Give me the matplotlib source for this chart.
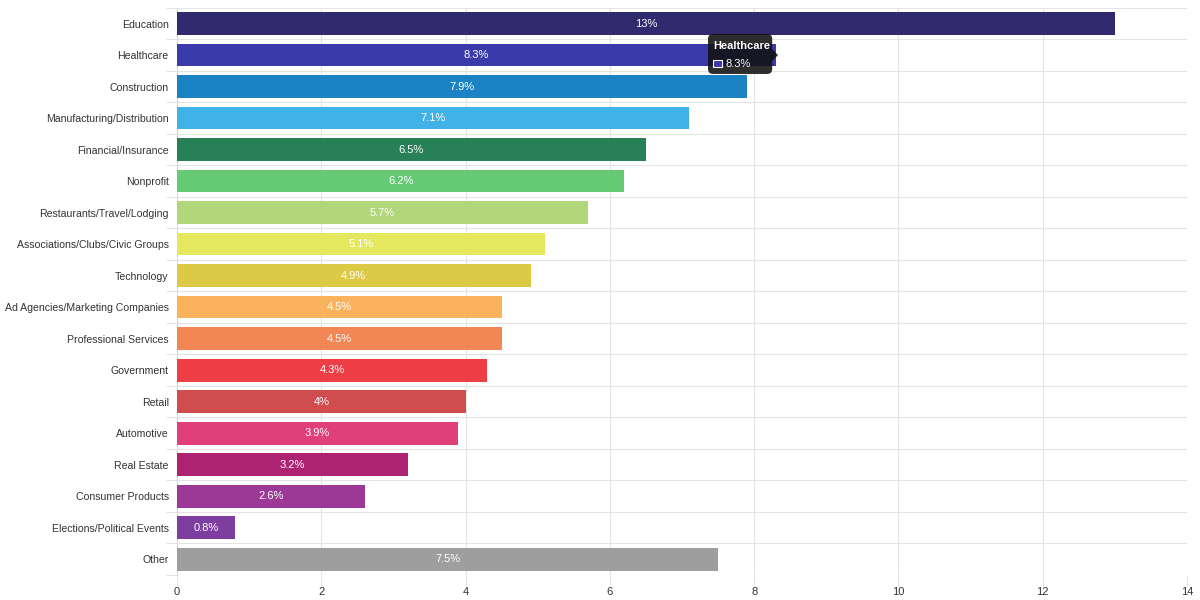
import matplotlib
matplotlib.use("Agg")
import matplotlib.pyplot as plt
from matplotlib.patches import FancyBboxPatch

plt.rcParams['font.family'] = ['Liberation Sans', 'DejaVu Sans']

# Данні діаграми
categories = [
    "Education", "Healthcare", "Construction", "Manufacturing/Distribution",
    "Financial/Insurance", "Nonprofit", "Restaurants/Travel/Lodging",
    "Associations/Clubs/Civic Groups", "Technology", "Ad Agencies/Marketing Companies",
    "Professional Services", "Government", "Retail", "Automotive", "Real Estate",
    "Consumer Products", "Elections/Political Events", "Other",
]
values = [13, 8.3, 7.9, 7.1, 6.5, 6.2, 5.7, 5.1, 4.9, 4.5, 4.5, 4.3, 4, 3.9, 3.2, 2.6, 0.8, 7.5]
value_labels = ["13%", "8.3%", "7.9%", "7.1%", "6.5%", "6.2%", "5.7%", "5.1%", "4.9%",
                "4.5%", "4.5%", "4.3%", "4%", "3.9%", "3.2%", "2.6%", "0.8%", "7.5%"]
colors = [
    "#312a6e", "#3a3aaa", "#1b82c4", "#41b2e8", "#288056", "#66c974",
    "#b2d67a", "#e4e85e", "#dcc945", "#fbb25c", "#f28654", "#ee3e45",
    "#cf4c4f", "#e03f7a", "#ae2272", "#9c3996", "#7d3ea0", "#9e9e9e",
]
x_ticks = [0, 2, 4, 6, 8, 10, 12, 14]
tooltip_category = "Healthcare"

fig = plt.figure(figsize=(12, 6), dpi=100)
ax = fig.add_axes([0.1475, 0.0417, 0.8417, 0.9453])

n = len(categories)
pos = list(range(n))
ax.barh(pos, values, height=0.72, color=colors, zorder=3)

for p, v, lab in zip(pos, values, value_labels):
    ax.text(v / 2, p, lab, ha="center", va="center", color="white", fontsize=8, zorder=4)

ax.set_ylim(n - 0.5, -0.5)
ax.set_xlim(0, 14)
ax.set_xticks(x_ticks)
ax.set_xticklabels([str(t) for t in x_ticks], fontsize=8, color="#333333")
ax.set_yticks(pos)
ax.set_yticklabels(categories, fontsize=7.6, color="#333333")

# Сітка на межах категорій
ax.set_yticks([p + 0.5 for p in pos[:-1]] + [-0.5, n - 0.5], minor=True)
ax.grid(axis="y", which="minor", color="#e4e4e4", lw=0.8, zorder=0)
ax.grid(axis="x", which="major", color="#e4e4e4", lw=0.8, zorder=0)
ax.tick_params(axis="y", which="major", length=0, pad=6)
ax.tick_params(axis="y", which="minor", length=8, color="#e4e4e4", width=0.8)
ax.tick_params(axis="x", length=8, color="#e4e4e4", width=0.8, pad=1)
for side in ["top", "right", "bottom"]:
    ax.spines[side].set_visible(False)
ax.spines["left"].set_color("#d8d8d8")

# Підказка (tooltip)
ti = categories.index(tooltip_category)
tv = values[ti]
bx0, bx1 = tv - 0.94, tv - 0.05
box = FancyBboxPatch((bx0, ti - 0.67), bx1 - bx0, 1.27,
                     boxstyle="round,pad=0,rounding_size=0.07",
                     transform=ax.transData, facecolor="#111111", alpha=0.88,
                     edgecolor="none", zorder=5, mutation_aspect=2.3)
ax.add_patch(box)
ax.fill([bx1 - 0.005, bx1 + 0.08, bx1 - 0.005], [ti - 0.2, ti, ti + 0.2], color="#111111",
        alpha=0.88, zorder=5, lw=0)
ax.text(bx0 + 0.07, ti - 0.29, tooltip_category, color="white", fontsize=8,
        fontweight="bold", ha="left", va="center", zorder=6)
ax.add_patch(plt.Rectangle((bx0 + 0.07, ti + 0.16), 0.13, 0.22, facecolor=colors[ti],
                           edgecolor="white", lw=0.8, zorder=6))
ax.text(bx0 + 0.24, ti + 0.27, value_labels[ti], color="white", fontsize=8,
        ha="left", va="center", zorder=6)

fig.savefig("out.png", dpi=100)
